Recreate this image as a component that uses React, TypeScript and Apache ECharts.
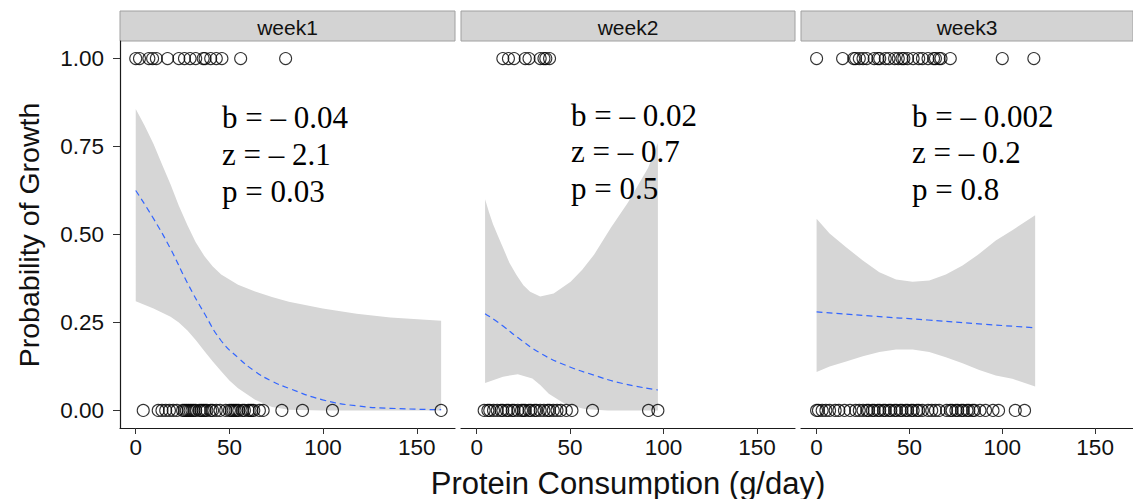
import React, { useEffect, useRef } from "react";
import * as echarts from "echarts";

// ---------- data ----------
const weeks = ["week1", "week2", "week3"];
const yTicks = [0, 0.25, 0.5, 0.75, 1];
const xTicks = [0, 50, 100, 150];

// observed outcomes (protein consumption, g/day)
const w1Grow = [0, 2, 7, 9, 11, 17, 23, 26, 29, 32, 36, 37, 40, 43, 46, 56, 80];
const w1NoGrow = [4, 12, 14, 16, 18, 20, 22, 25, 26, 27, 28, 29, 30, 31, 32, 34, 35, 36, 37, 38, 40, 41, 43, 45, 48, 50, 51, 52, 53, 54, 55, 57, 58, 60, 61, 62, 63, 66, 68, 78, 89, 105, 163];
const w2Grow = [14, 17, 20, 26, 28, 34, 36, 37, 39];
const w2NoGrow = [4, 6, 7, 9, 11, 13, 14, 16, 17, 19, 20, 22, 24, 25, 26, 28, 29, 31, 32, 34, 36, 38, 39, 41, 43, 45, 48, 51, 62, 92, 97];
const w3Grow = [0, 14, 20, 21, 23, 25, 27, 31, 33, 34, 37, 39, 42, 44, 46, 47, 49, 52, 55, 57, 60, 63, 64, 66, 67, 72, 100, 117];
const w3NoGrow = [0, 1, 3, 5, 7, 10, 12, 15, 18, 21, 23, 25, 27, 28, 30, 31, 33, 34, 36, 37, 39, 40, 42, 43, 45, 46, 48, 49, 51, 52, 54, 55, 57, 60, 62, 64, 66, 70, 72, 73, 75, 76, 78, 79, 81, 82, 84, 85, 88, 91, 95, 98, 107, 112];

// confidence ribbons
const w1UpperX = [0, 4.7, 9.5, 14, 18.6, 23, 27.6, 32, 36.6, 41, 45.6, 54.6, 63.7, 72.7, 81.7, 99.8, 117.9, 135.9, 163];
const w1Upper = [0.857, 0.81, 0.757, 0.7, 0.642, 0.582, 0.526, 0.478, 0.439, 0.41, 0.386, 0.357, 0.338, 0.322, 0.309, 0.29, 0.275, 0.264, 0.255];
const w1LowerX = [0, 9.5, 18.6, 23, 27.6, 32, 36.6, 41, 45.6, 50, 54.6, 63.7, 72.7, 81.7, 99.8, 163];
const w1Lower = [0.31, 0.29, 0.266, 0.25, 0.227, 0.2, 0.169, 0.14, 0.111, 0.085, 0.063, 0.03, 0.01, 0.002, 0, 0];
const w2UpperX = [4.5, 6.5, 8.7, 11.5, 14.1, 17.5, 21.3, 25, 28.6, 34, 41.2, 50.3, 56.5, 62.9, 71.9, 80.9, 91.8, 97];
const w2Upper = [0.6, 0.565, 0.53, 0.494, 0.462, 0.42, 0.385, 0.356, 0.337, 0.324, 0.332, 0.366, 0.4, 0.443, 0.52, 0.59, 0.69, 0.76];
const w2LowerX = [4.5, 14.1, 22, 29.8, 34, 38.6, 47.3, 57.8, 70, 97];
const w2Lower = [0.078, 0.096, 0.103, 0.091, 0.072, 0.047, 0.018, 0.004, 0, 0];
const w3UpperX = [0, 7, 15.9, 24.9, 33.8, 42.8, 51.7, 60.7, 69.6, 78.6, 87.6, 96.5, 105.4, 117.7];
const w3Upper = [0.545, 0.503, 0.464, 0.426, 0.393, 0.372, 0.366, 0.369, 0.386, 0.412, 0.445, 0.483, 0.512, 0.555];
const w3LowerX = [0, 7, 15.9, 24.9, 33.8, 42.8, 51.7, 60.7, 69.6, 78.6, 87.6, 96.5, 105.4, 117.7];
const w3Lower = [0.109, 0.125, 0.139, 0.154, 0.166, 0.173, 0.173, 0.166, 0.151, 0.134, 0.115, 0.099, 0.09, 0.068];

// fitted logistic curves
const w1FitX = [0, 9.5, 18.6, 27.6, 36.6, 45.6, 54.6, 63.7, 72.7, 81.7, 99.8, 117.9, 135.9, 163];
const w1Fit = [0.625, 0.545, 0.459, 0.362, 0.276, 0.198, 0.15, 0.111, 0.083, 0.063, 0.03, 0.013, 0.006, 0.002];
const w2FitX = [4.5, 14.1, 22, 34, 47.3, 62.9, 77, 97];
const w2Fit = [0.275, 0.24, 0.207, 0.163, 0.129, 0.1, 0.078, 0.058];
const w3FitX = [0, 30, 60, 90, 117.7];
const w3Fit = [0.28, 0.268, 0.257, 0.245, 0.235];

const statLines = [
  ["b = – 0.04", "z = – 2.1", "p = 0.03"],
  ["b = – 0.02", "z = – 0.7", "p = 0.5"],
  ["b = – 0.002", "z = – 0.2", "p = 0.8"],
];

const xTitle = "Protein Consumption (g/day)";
const yTitle = "Probability of Growth";

// ---------- layout ----------
const W = 1133;
const H = 499;
const panels = [
  { left: 120, width: 335 },
  { left: 461, width: 334 },
  { left: 801, width: 332 },
];
const plotTop = 41;
const plotH = 387;
const stripTop = 11;
const stripH = 30;
const statX = [222, 571, 912];
const statY = [
  [117, 154, 191],
  [115, 151, 188],
  [116, 152, 189],
];

const sansFont = "'Liberation Sans', Arial, sans-serif";
const serifFont = "'Liberation Serif', 'Times New Roman', serif";

export default function App() {
  const ref = useRef<HTMLDivElement>(null);

  useEffect(() => {
    if (!ref.current) return;
    const chart = echarts.init(ref.current, null, { renderer: "svg" });

    const grow = [w1Grow, w2Grow, w3Grow];
    const noGrow = [w1NoGrow, w2NoGrow, w3NoGrow];
    const ribbons = [
      [w1UpperX, w1Upper, w1LowerX, w1Lower],
      [w2UpperX, w2Upper, w2LowerX, w2Lower],
      [w3UpperX, w3Upper, w3LowerX, w3Lower],
    ];
    const fits = [
      [w1FitX, w1Fit],
      [w2FitX, w2Fit],
      [w3FitX, w3Fit],
    ];

    const grids = panels.map((p) => ({
      left: p.left,
      top: plotTop,
      width: p.width,
      height: plotH,
      containLabel: false,
      outerBoundsMode: "none",
    }));

    const xAxes = panels.map((_, i) => ({
      type: "value",
      gridIndex: i,
      min: -8.4,
      max: 170.4,
      splitLine: { show: false },
      axisLine: { show: true, onZero: false, lineStyle: { color: "#1a1a1a", width: 1.2 } },
      axisTick: { show: true, length: 6, customValues: xTicks, lineStyle: { color: "#333" } },
      axisLabel: {
        show: true,
        customValues: xTicks,
        margin: 8,
        fontSize: 22.5,
        color: "#111",
        fontFamily: sansFont,
      },
    }));

    const yAxes = panels.map((_, i) => ({
      type: "value",
      gridIndex: i,
      min: -0.05,
      max: 1.05,
      splitLine: { show: false },
      axisLine: { show: i === 0, onZero: false, lineStyle: { color: "#1a1a1a", width: 1.2 } },
      axisTick: { show: i === 0, length: 7, customValues: yTicks, lineStyle: { color: "#333" } },
      axisLabel: {
        show: i === 0,
        customValues: yTicks,
        margin: 16,
        fontSize: 22.5,
        color: "#111",
        fontFamily: sansFont,
        formatter: (v: number) => v.toFixed(2),
      },
    }));

    const series: any[] = [];
    panels.forEach((_, i) => {
      const [ux, uy, lx, ly] = ribbons[i];
      series.push({
        type: "custom",
        xAxisIndex: i,
        yAxisIndex: i,
        silent: true,
        z: 1,
        data: [0],
        renderItem: (_p: any, api: any) => {
          const pts: number[][] = [];
          ux.forEach((x, k) => pts.push(api.coord([x, uy[k]])));
          for (let k = lx.length - 1; k >= 0; k--) pts.push(api.coord([lx[k], ly[k]]));
          return {
            type: "polygon",
            shape: { points: pts },
            style: { fill: "#d6d6d6", stroke: "none" },
          };
        },
      });
      const [fx, fy] = fits[i];
      series.push({
        type: "line",
        xAxisIndex: i,
        yAxisIndex: i,
        z: 3,
        smooth: true,
        showSymbol: false,
        silent: true,
        data: fx.map((x, k) => [x, fy[k]]),
        lineStyle: { color: "#3366FF", width: 1.2, type: [6, 4] },
      });
      series.push({
        type: "scatter",
        xAxisIndex: i,
        yAxisIndex: i,
        z: 4,
        silent: true,
        symbol: "circle",
        symbolSize: 12,
        data: [
          ...grow[i].map((x) => [x, 1]),
          ...noGrow[i].map((x) => [x, 0]),
        ],
        itemStyle: { color: "rgba(0,0,0,0)", borderColor: "#000", borderWidth: 1.1 },
      });
    });

    const graphics: any[] = [];
    panels.forEach((p, i) => {
      graphics.push({
        type: "rect",
        shape: { x: p.left, y: stripTop, width: p.width, height: stripH },
        style: { fill: "#d3d3d3", stroke: "#a0a0a0", lineWidth: 1 },
        silent: true,
      });
      graphics.push({
        type: "text",
        x: p.left + p.width / 2,
        y: stripTop + stripH / 2 + 1,
        style: {
          text: weeks[i],
          fill: "#111",
          font: `21px ${sansFont}`,
          align: "center",
          verticalAlign: "middle",
        },
        silent: true,
      });
      statLines[i].forEach((line, k) => {
        graphics.push({
          type: "text",
          x: statX[i],
          y: statY[i][k],
          z: 10,
          style: {
            text: line,
            fill: "#000",
            font: `31px ${serifFont}`,
            align: "left",
            verticalAlign: "middle",
          },
          silent: true,
        });
      });
    });
    graphics.push({
      type: "text",
      x: 628,
      y: 483,
      style: {
        text: xTitle,
        fill: "#111",
        font: `31px ${sansFont}`,
        align: "center",
        verticalAlign: "middle",
      },
      silent: true,
    });
    graphics.push({
      type: "text",
      x: 29,
      y: 235,
      rotation: Math.PI / 2,
      style: {
        text: yTitle,
        fill: "#111",
        font: `28.5px ${sansFont}`,
        align: "center",
        verticalAlign: "middle",
      },
      silent: true,
    });

    chart.setOption({
      animation: false,
      backgroundColor: "#fff",
      grid: grids,
      xAxis: xAxes,
      yAxis: yAxes,
      series,
      graphic: graphics,
    });

    return () => chart.dispose();
  }, []);

  return (
    <div
      ref={ref}
      style={{ position: "fixed", left: 0, top: 0, width: W, height: H, background: "#fff" }}
    />
  );
}
